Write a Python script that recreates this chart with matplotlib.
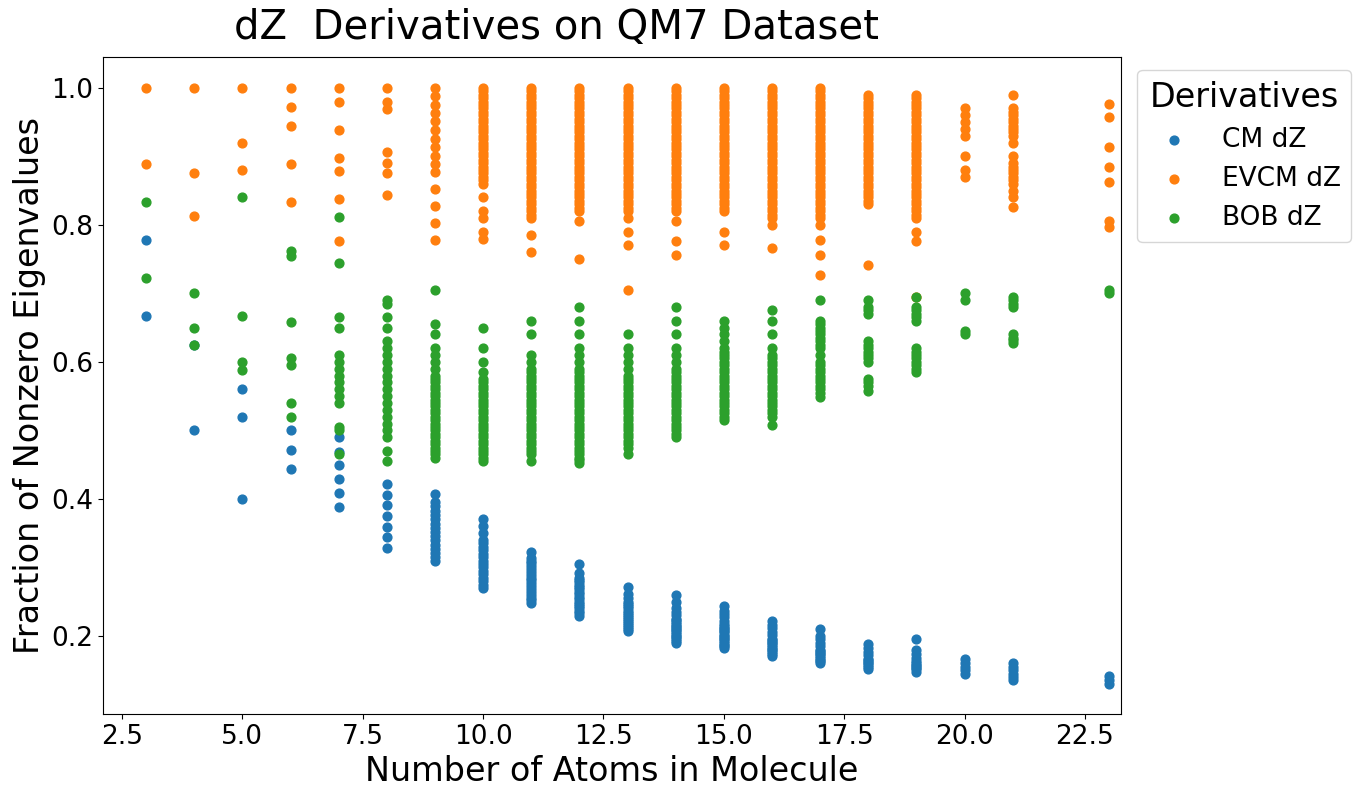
import matplotlib
matplotlib.use("Agg")
import matplotlib.pyplot as plt

# ========================
# Data
# ========================
atoms = [3, 4, 5, 6, 7, 8, 9, 10, 11, 12, 13, 14, 15, 16, 17, 18, 19, 20, 21, 23]

cm_values = [
    [.667, .778],
    [.5, .625],
    [.4, .52, .56],
    [.444, .472, .5],
    [.388, .408, .429, .449, .469, .49],
    [.328, .344, .359, .375, .391, .406, .422],
    [.309, .315, .321, .327, .333, .34, .346, .352, .358, .364, .37, .377, .383, .389, .395, .407],
    [.27, .275, .28, .285, .29, .295, .30, .305, .31, .315, .32, .325, .33, .335, .34, .35, .36, .37],
    [.248, .252, .256, .26, .264, .268, .273, .277, .281, .285, .289, .293, .298, .302, .306, .31, .314, .322],
    [.229, .233, .236, .24, .243, .247, .25, .254, .257, .261, .264, .268, .271, .275, .278, .282, .285, .292, .305],
    [.207, .21, .213, .216, .219, .222, .225, .228, .231, .234, .237, .24, .243, .246, .249, .255, .261, .272],
    [.189, .192, .195, .198, .2, .203, .205, .208, .21, .213, .215, .218, .22, .223, .225, .23, .235, .24, .25, .26],
    [.182, .185, .187, .19, .192, .195, .197, .2, .202, .205, .207, .21, .212, .215, .217, .222, .227, .232, .237, .244],
    [.171, .174, .176, .179, .181, .184, .186, .189, .191, .194, .196, .201, .206, .211, .216, .222],
    [.16, .163, .165, .168, .17, .173, .175, .178, .18, .185, .19, .195, .2, .21],
    [.152, .155, .157, .16, .162, .165, .167, .172, .177, .182, .188],
    [.148, .151, .153, .156, .158, .161, .163, .168, .173, .18, .195],
    [.145, .15, .155, .16, .167],
    [.135, .14, .145, .15, .155, .16],
    [.13, .135, .142],
]

evcm_values = [
    [.889, 1.0],
    [.813, .875, 1.0],
    [.88, .92, 1.0],
    [.833, .889, .944, .972, 1.0],
    [.776, .837, .878, .898, .939, .98, 1.0],
    [.844, .875, .89, .906, .969, .98, 1.0],
    [.778, .802, .827, .852, .877, .889, .901, .914, .926, .938, .951, .963, .975, .988, 1.0],
    [.78, .79, .81, .82, .84, .86, .865, .87, .875, .88, .885, .89, .895, .90, .905, .91, .915, .92, .925, .93, .935, .94, .945, .95, .955, .96, .965, .97, .975, .98, .985, .99, .995, 1.0],
    [.76, .785, .81, .815, .82, .825, .83, .835, .84, .845, .85, .855, .86, .865, .87, .875, .88, .885, .89, .895, .90, .905, .91, .915, .92, .925, .93, .935, .94, .945, .95, .955, .96, .965, .97, .975, .98, .985, .99, .995, 1.0],
    [.75, .805, .82, .825, .83, .835, .84, .845, .85, .855, .86, .865, .87, .875, .88, .885, .89, .895, .90, .905, .91, .915, .92, .925, .93, .935, .94, .945, .95, .955, .96, .965, .97, .975, .98, .985, .99, .995, 1.0],
    [.705, .77, .79, .81, .82, .825, .83, .835, .84, .845, .85, .855, .86, .865, .87, .875, .88, .885, .89, .895, .90, .905, .91, .915, .92, .925, .93, .935, .94, .945, .95, .955, .96, .965, .97, .975, .98, .985, .99, .995, 1.0],
    [.756, .776, .806, .82, .825, .83, .835, .84, .845, .85, .855, .86, .865, .87, .875, .88, .885, .89, .895, .90, .905, .91, .915, .92, .925, .93, .935, .94, .945, .95, .955, .96, .965, .97, .975, .98, .985, .99, .995, 1.0],
    [.77, .79, .82, .825, .83, .835, .84, .845, .85, .855, .86, .865, .87, .875, .88, .885, .89, .895, .90, .905, .91, .915, .92, .925, .93, .935, .94, .945, .95, .955, .96, .965, .97, .975, .98, .985, .99, .995, 1.0],
    [.766, .80, .81, .815, .82, .825, .83, .835, .84, .845, .85, .855, .86, .865, .87, .875, .88, .885, .89, .895, .90, .905, .91, .915, .92, .925, .93, .935, .94, .945, .95, .955, .96, .965, .97, .975, .98, .985, .99, .995, 1.0],
    [.727, .756, .778, .80, .81, .815, .82, .825, .83, .835, .84, .845, .85, .855, .86, .865, .87, .875, .88, .885, .89, .895, .90, .905, .91, .915, .92, .925, .93, .935, .94, .945, .95, .955, .96, .965, .97, .975, .98, .985, .99, .995, 1.0],
    [.742, .83, .835, .84, .845, .85, .855, .86, .865, .87, .875, .88, .885, .89, .895, .90, .905, .91, .915, .92, .925, .93, .935, .94, .945, .95, .955, .96, .965, .97, .975, .98, .985, .99],
    [.695, .776, .79, .81, .815, .82, .825, .83, .835, .84, .845, .85, .855, .86, .865, .87, .875, .88, .885, .89, .895, .90, .905, .91, .915, .92, .925, .93, .935, .94, .945, .95, .955, .96, .965, .97, .975, .98, .985, .99],
    [.87, .88, .90, .93, .94, .95, .96, .97],
    [.826, .84, .85, .86, .865, .87, .875, .88, .885, .89, .90, .92, .93, .935, .94, .945, .95, .955, .96, .965, .97, .99],
    [.797, .805, .862, .885, .914, .958, .977],
]

bob_values = [
    [.722, .833],
    [.625, .65, .7],
    [.588, .6, .667, .84],
    [.52, .54, .595, .605, .658, .755, .762],
    [.465, .5, .505, .54, .55, .56, .57, .58, .59, .6, .61, .65, .665, .745, .812],
    [.455, .47, .49, .5, .51, .52, .53, .54, .55, .56, .57, .58, .59, .6, .61, .62, .63, .65, .665, .685, .69],
    [.46, .465, .47, .475, .48, .485, .49, .495, .50, .505, .51, .515, .52, .525, .53, .535, .54, .545, .55, .555, .56, .565, .57, .575, .58, .59, .60, .61, .62, .64, .655, .705],
    [.455, .46, .465, .47, .475, .48, .485, .49, .495, .50, .505, .51, .515, .52, .525, .53, .535, .54, .545, .55, .555, .56, .565, .57, .575, .585, .6, .62, .65],
    [.455, .465, .47, .475, .48, .485, .49, .495, .50, .505, .51, .515, .52, .525, .53, .535, .54, .545, .55, .555, .56, .565, .57, .575, .58, .585, .59, .60, .61, .64, .66],
    [.452, .457, .46, .465, .47, .475, .48, .485, .49, .495, .50, .505, .51, .515, .52, .525, .53, .535, .54, .545, .55, .555, .56, .565, .57, .575, .58, .585, .59, .60, .61, .62, .64, .66, .68],
    [.465, .475, .48, .485, .49, .495, .50, .505, .51, .515, .52, .525, .53, .535, .54, .545, .55, .555, .56, .565, .57, .575, .58, .59, .60, .61, .62, .64],
    [.49, .495, .50, .505, .51, .515, .52, .525, .53, .535, .54, .545, .55, .555, .56, .565, .57, .575, .58, .585, .59, .60, .61, .62, .64, .66, .68],
    [.515, .52, .525, .53, .535, .54, .545, .55, .555, .56, .565, .57, .575, .58, .585, .59, .595, .60, .605, .61, .615, .62, .63, .64, .65, .66],
    [.508, .52, .525, .53, .535, .54, .545, .55, .555, .56, .565, .57, .575, .58, .585, .59, .595, .60, .605, .61, .62, .64, .66, .675],
    [.548, .555, .56, .565, .57, .575, .58, .585, .59, .595, .60, .61, .62, .625, .63, .635, .64, .645, .65, .655, .66, .69],
    [.558, .565, .57, .575, .6, .605, .61, .615, .62, .625, .63, .67, .675, .68, .69],
    [.585, .59, .595, .6, .605, .61, .615, .62, .66, .665, .67, .675, .68, .695],
    [.64, .645, .69, .7],
    [.628, .632, .635, .64, .68, .685, .69, .695],
    [.70, .705],
]

series = [("CM dZ", cm_values), ("EVCM dZ", evcm_values), ("BOB dZ", bob_values)]

# ========================
# Plot
# ========================
fig = plt.figure(figsize=(13.6, 7.98), dpi=100)
ax = fig.add_axes([103 / 1360, 1 - 714 / 798, (1121 - 103) / 1360, (714 - 57) / 798])

for label, values in series:
    xs, ys = [], []
    for n, col in zip(atoms, values):
        xs.extend([n] * len(col))
        ys.extend(col)
    ax.scatter(xs, ys, s=40, label=label)

ax.set_xlim(2.105, 23.25)
ax.set_ylim(0.086, 1.045)
fig.text(557 / 1360, 1 - 28 / 798, "dZ  Derivatives on QM7 Dataset", fontsize=29,
         ha="center", va="center")
ax.set_xlabel("Number of Atoms in Molecule", fontsize=24)
ax.set_ylabel("Fraction of Nonzero Eigenvalues", fontsize=24)
ax.tick_params(labelsize=19)
ax.legend(title="Derivatives", fontsize=19, title_fontsize=24,
          loc="upper left", bbox_to_anchor=(1.003, 1.0))

fig.savefig("out.png", dpi=100)
